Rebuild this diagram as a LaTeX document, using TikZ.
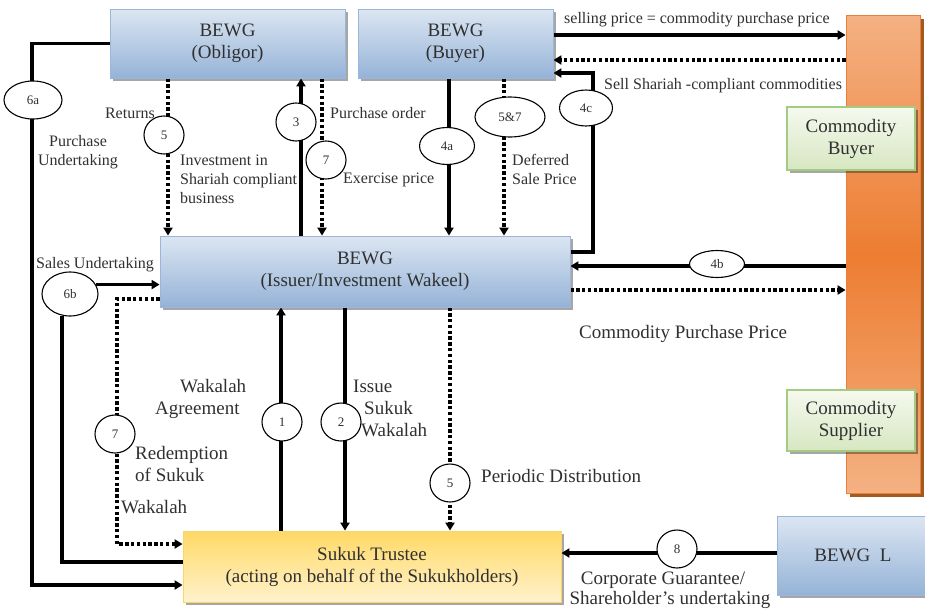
\documentclass[tikz,border=0pt]{standalone}
\usepackage{fontspec}
\setmainfont{Liberation Serif}
\usetikzlibrary{arrows.meta,shapes.geometric,shadows}
\pgfdeclarelayer{bg}
\pgfsetlayers{bg,main}
\definecolor{bluetop}{HTML}{DCE6F2}
\definecolor{bluebot}{HTML}{95B3D7}
\definecolor{bluebd}{HTML}{9DB5DA}
\definecolor{yeltop}{HTML}{FFD966}
\definecolor{yelbot}{HTML}{FFF2CC}
\definecolor{yelbd}{HTML}{F9D56A}
\definecolor{orlight}{HTML}{F4B183}
\definecolor{ormid}{HTML}{ED7D31}
\definecolor{orbd}{HTML}{E97F3B}
\definecolor{orshadow}{HTML}{984807}
\definecolor{grtop}{HTML}{F5F9EF}
\definecolor{grbot}{HTML}{D7E7C1}
\definecolor{grbd}{HTML}{A3CB83}
\definecolor{txt}{HTML}{303030}
\newcommand\lblbig{\fontsize{19}{22}\selectfont}
\newcommand\lblsml{\fontsize{16}{19}\selectfont}
\newcommand\lblnum{\fontsize{13}{15}\selectfont}
\tikzset{
  boxbase/.style={line width=0.8pt, align=center, font=\lblbig, text=txt, inner sep=0pt,
    drop shadow={shadow xshift=3pt, shadow yshift=-3pt, fill=black, opacity=0.35}},
  bluebox/.style={boxbase, draw=bluebd, top color=bluetop, bottom color=bluebot},
  yellowbox/.style={boxbase, draw=yelbd, top color=yeltop, bottom color=yelbot},
  greenbox/.style={boxbase, line width=1.2pt, draw=grbd, top color=grtop, bottom color=grbot},
  orangebar/.style={draw=orbd, line width=0.8pt, top color=orlight, bottom color=orlight, middle color=ormid,
    drop shadow={shadow xshift=4pt, shadow yshift=-4pt, fill=orshadow, opacity=0.9}},
  numb/.style={ellipse, draw=black, line width=1.1pt, fill=white, inner sep=0pt, font=\lblnum, text=txt,
    minimum width=40, minimum height=38},
  lbls/.style={font=\lblsml, text=txt, inner sep=0pt},
  lblb/.style={font=\lblbig, text=txt, inner sep=0pt},
  arr/.style={-{Triangle[length=8pt,width=9pt]}},
  sol/.style={line width=3.3pt, draw=black},
  dotl/.style={line width=3.3pt, draw=black, dash pattern=on 3.3pt off 2.5pt}
}
\begin{document}
\begin{tikzpicture}[x=1pt,y=-1pt]
\useasboundingbox (0,0) rectangle (925,608);
% boxes
\node[bluebox, minimum width=235, minimum height=69] (obl) at (227.5,43.5) {BEWG\\(Obligor)};
\node[bluebox, minimum width=195, minimum height=69] (buy) at (455.5,43.5) {BEWG\\(Buyer)};
\node[bluebox, minimum width=410, minimum height=71] (iss) at (365,271.5) {BEWG\\(Issuer/Investment Wakeel)};
\node[yellowbox, minimum width=378, minimum height=71] (trust) at (372,566.5) {Sukuk Trustee\\(acting on behalf of the Sukukholders)};
\node[bluebox, minimum width=152, minimum height=79] (bl) at (853,555.5) {BEWG~~L};
\node[orangebar, minimum width=74, minimum height=478] (bar) at (883,254) {};
\node[greenbox, minimum width=128, minimum height=63] (cb) at (851,138.5) {Commodity\\Buyer};
\node[greenbox, minimum width=128, minimum height=61] (cs) at (851,420.5) {Commodity\\Supplier};
% step ellipses
\node[numb, minimum width=58] (c6a) at (33,100) {6a};
\node[numb] (c5a) at (164,135) {5};
\node[numb] (c3) at (296,122) {3};
\node[numb] (c7a) at (326,160) {7};
\node[numb, minimum width=55, minimum height=37] (c4a) at (447,146) {4a};
\node[numb, minimum width=70, minimum height=40] (c57) at (510,117) {5\&7};
\node[numb, minimum width=53, minimum height=36] (c4c) at (586,108) {4c};
\node[numb, minimum width=55, minimum height=27] (c4b) at (717,264) {4b};
\node[numb, minimum width=56, minimum height=44] (c6b) at (70,294) {6b};
\node[numb] (c7b) at (115,434) {7};
\node[numb] (c1) at (282,422) {1};
\node[numb] (c2) at (341,422) {2};
\node[numb] (c5b) at (450,483) {5};
\node[numb] (c8) at (677,549) {8};
% guide coordinates
\coordinate (v5a) at (168,0);
\coordinate (v3) at (301,0);
\coordinate (v7a) at (322,0);
\coordinate (v4a) at (449,0);
\coordinate (v57) at (504,0);
\coordinate (v1) at (281,0);
\coordinate (v2) at (345,0);
\coordinate (v5b) at (450,0);
\coordinate (h35) at (0,35);
\coordinate (h60) at (0,60);
\coordinate (h252) at (0,252);
\coordinate (h266) at (0,266);
\coordinate (h290) at (0,290);
\coordinate (h299) at (0,299);
\coordinate (h553) at (0,553);
\coordinate (k6a) at (32,585);
\coordinate (k6b) at (62,562);
\coordinate (k7) at (117,544);
\coordinate (k4c) at (593,73);
% connectors
\begin{pgfonlayer}{bg}
\draw[sol,arr] (obl.west) -| (k6a) -- (trust.west |- k6a);
\draw[sol,arr] (c6b.20) -- (iss.west |- c6b.20);
\draw[sol] (c6b.250) |- (trust.west |- k6b);
\draw[dotl,arr] (iss.west |- h299) -| (k7) -- (trust.west |- k7);
\draw[dotl,arr] (obl.south -| v5a) -- (iss.north -| v5a);
\draw[sol,arr] (iss.north -| v3) -- (obl.south -| v3);
\draw[dotl,arr] (obl.south -| v7a) -- (iss.north -| v7a);
\draw[sol,arr] (buy.south -| v4a) -- (iss.north -| v4a);
\draw[dotl,arr] (buy.south -| v57) -- (iss.north -| v57);
\draw[sol,arr] (trust.north -| v1) -- (iss.south -| v1);
\draw[sol,arr] (iss.south -| v2) -- (trust.north -| v2);
\draw[dotl,arr] (iss.south -| v5b) -- (trust.north -| v5b);
\draw[sol,arr] (buy.east |- h35) -- (bar.west |- h35);
\draw[dotl,arr] (bar.west |- h60) -- (buy.east |- h60);
\draw[sol,arr] (iss.east |- h252) -| (k4c) -- (buy.east |- k4c);
\draw[sol,arr] (bar.west |- h266) -- (iss.east |- h266);
\draw[dotl,arr] (iss.east |- h290) -- (bar.west |- h290);
\draw[sol,arr] (bl.west |- h553) -- (trust.east |- h553);
\end{pgfonlayer}
% labels
\node[lbls, anchor=base west] at (564,23) {selling price = commodity purchase price};
\node[lbls, anchor=base west] at (604,89) {Sell Shariah -compliant commodities};
\node[lbls, anchor=base east] at (155,118) {Returns};
\node[lbls, anchor=base west] at (330,118) {Purchase order};
\node[lbls, anchor=west, align=left] at (180,179) {Investment in\\Shariah compliant\\business};
\node[lbls, anchor=base west] at (343,183) {Exercise price};
\node[lbls, anchor=west, align=left] at (512,169) {Deferred\\Sale Price};
\node[lbls, align=center] at (78,152) {Purchase\\Undertaking};
\node[lbls, anchor=base west] at (36,268) {Sales Undertaking};
\node[lblb, anchor=base west] at (579,338) {Commodity Purchase Price};
\node[lblb, anchor=base west] at (180,392) {Wakalah};
\node[lblb, anchor=base west] at (155,414) {Agreement};
\node[lblb, anchor=base west] at (353,392) {Issue};
\node[lblb, anchor=base west] at (364,414) {Sukuk};
\node[lblb, anchor=base west] at (361,436) {Wakalah};
\node[lblb, anchor=base west] at (135,459) {Redemption};
\node[lblb, anchor=base west] at (135,481) {of Sukuk};
\node[lblb, anchor=base west] at (121,513) {Wakalah};
\node[lblb, anchor=base west] at (481,482) {Periodic Distribution};
\node[lblb, anchor=base] at (663,584) {Corporate Guarantee/};
\node[lblb, anchor=base] at (670,604) {Shareholder’s undertaking};
\end{tikzpicture}
\end{document}
